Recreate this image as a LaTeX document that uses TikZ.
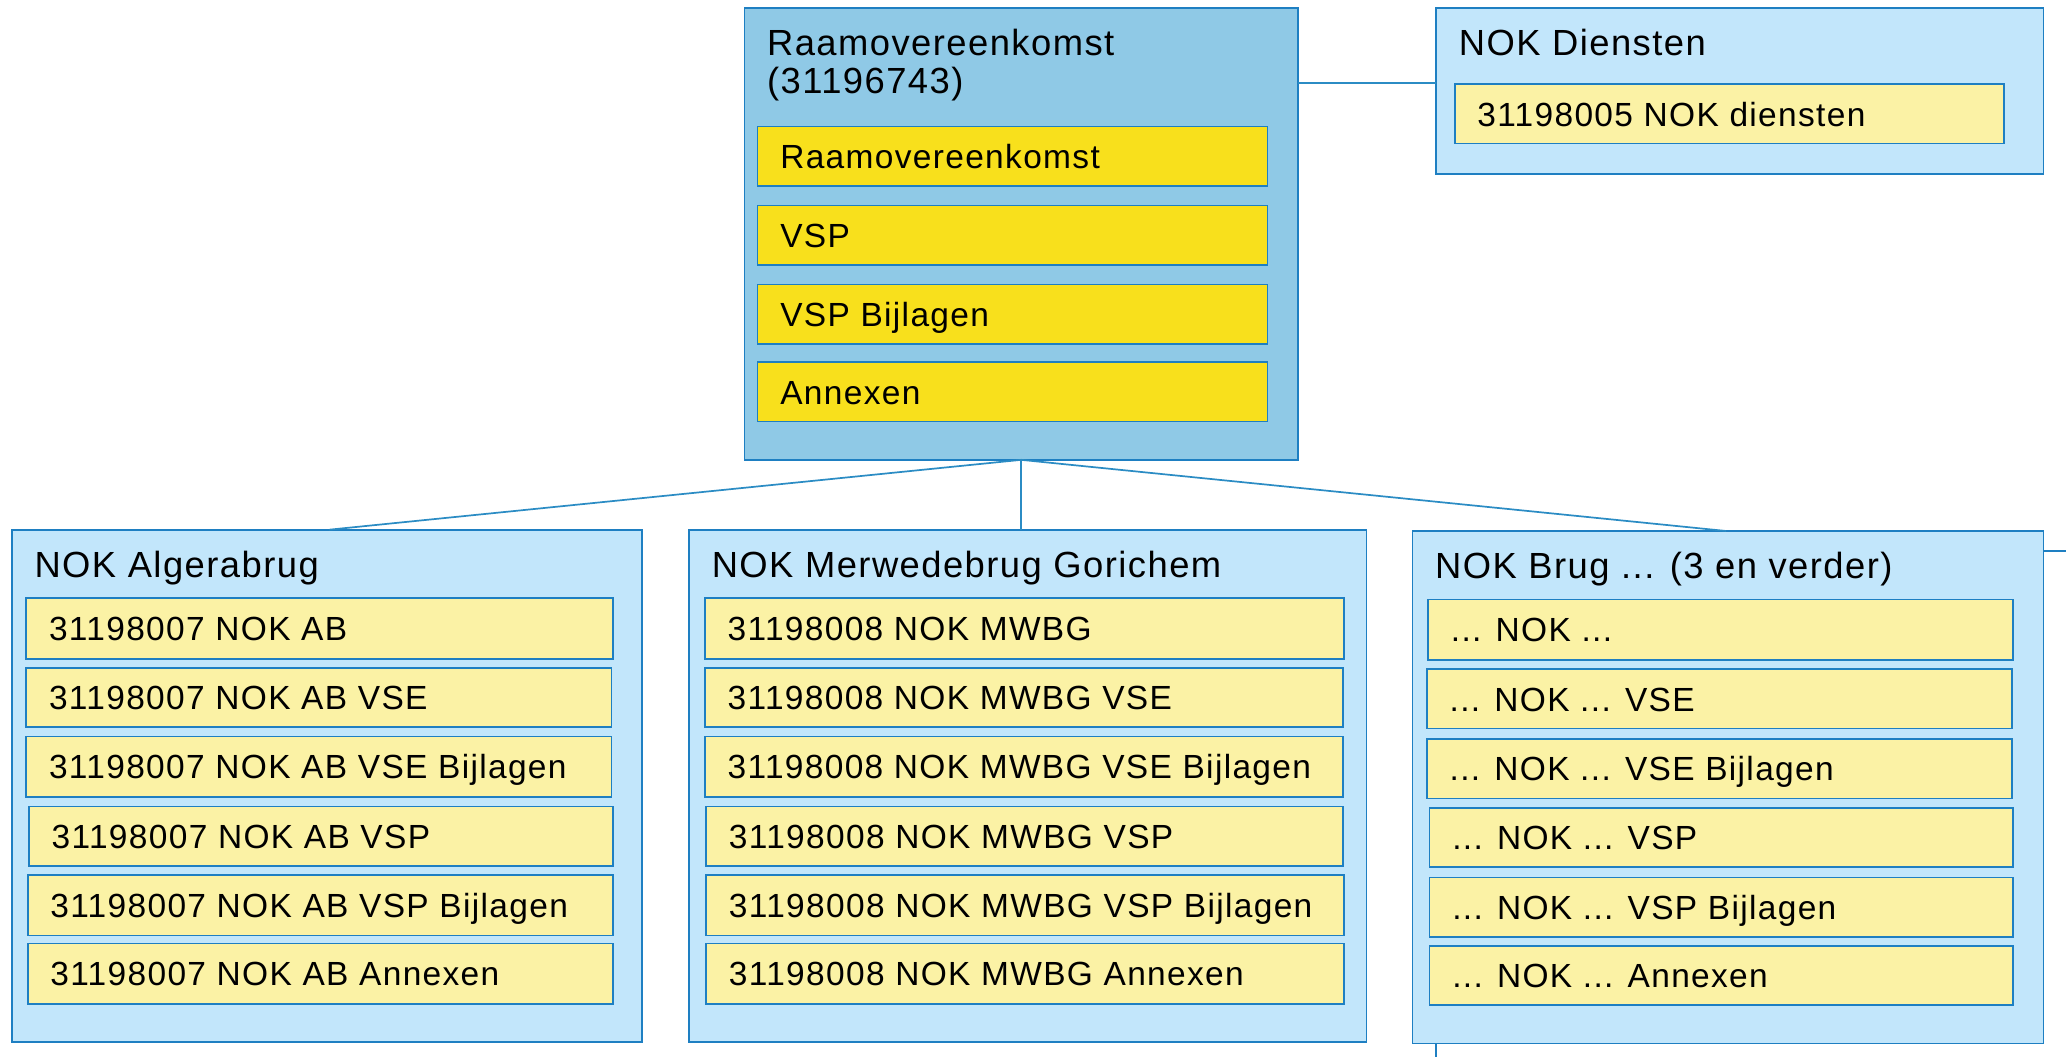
\documentclass[tikz,border=0pt]{standalone}
\usepackage{fontspec}
\setmainfont{Liberation Sans}[LetterSpace=4]
\usetikzlibrary{calc}
\definecolor{edgeblue}{HTML}{1E7FC2}
\definecolor{linkblue}{HTML}{2B8CC4}
\definecolor{topfill}{HTML}{8FC9E6}
\definecolor{groupfill}{HTML}{C2E6FB}
\definecolor{strongyellow}{HTML}{F8E01C}
\definecolor{paleyellow}{HTML}{FBF2A5}
\newcommand\rbox[6]{% style, name, x1, y1, x2, y2
  \pgfmathsetmacro\bw{#5-#3}\pgfmathsetmacro\bh{#6-#4}%
  \pgfmathsetmacro\bx{(#3+#5)/2}\pgfmathsetmacro\by{(#4+#6)/2}%
  \node[#1, minimum width=\bw pt, minimum height=\bh pt] (#2) at (\bx,\by) {};}
\newcommand\ritem[7]{% style, name, x1, y1, x2, y2, text
  \rbox{#1}{#2}{#3}{#4}{#5}{#6}%
  \node[itemtext] (#2-t) at ($(#2.west)+(17,9.2)$) {#7};}
\begin{document}
\begin{tikzpicture}[x=1pt,y=-1pt,
  rbase/.style={rectangle, draw=edgeblue, line width=1.3pt, inner sep=0pt, outer sep=0pt},
  topbox/.style={rbase, fill=topfill},
  groupbox/.style={rbase, fill=groupfill},
  backbox/.style={rbase, fill=white},
  ybox/.style={rbase, fill=strongyellow},
  pbox/.style={rbase, fill=paleyellow},
  itemtext/.style={anchor=base west, inner sep=0pt, font=\fontsize{25.4}{30}\selectfont},
  titletext/.style={anchor=base west, inner sep=0pt, font=\fontsize{27.6}{33}\selectfont},
  link/.style={draw=linkblue, line width=1.3pt}]
\useasboundingbox (0,0) rectangle (1568,802);
\clip (0,0) rectangle (1568,802);
\fill[white] (0,0) rectangle (1568,802);

% box partly hidden behind the third group
\rbox{backbox}{back}{1090}{418}{1640}{860}

% top box
\rbox{topbox}{top}{565}{6}{985}{349}
\node[titletext] (top-t1) at (582,42) {Raamovereenkomst};
\node[titletext] (top-t2) at (582,71) {(31196743)};
\ritem{ybox}{r1}{575}{96}{962}{141}{Raamovereenkomst}
\ritem{ybox}{r2}{575}{156}{962}{201}{VSP}
\ritem{ybox}{r3}{575}{216}{962}{261}{VSP Bijlagen}
\ritem{ybox}{r4}{575}{275}{962}{320}{Annexen}

% NOK Diensten
\rbox{groupbox}{dien}{1090}{6}{1551}{132}
\node[titletext] (dien-t) at (1107,42) {NOK Diensten};
\ritem{pbox}{d1}{1104}{64}{1521}{109}{31198005 NOK diensten}

% NOK Algerabrug
\rbox{groupbox}{alg}{9}{402}{487}{791}
\node[titletext] (alg-t) at (26,438) {NOK Algerabrug};
\ritem{pbox}{a1}{20}{454}{465}{500}{31198007 NOK AB}
\ritem{pbox}{a2}{20}{507}{464}{552}{31198007 NOK AB VSE}
\ritem{pbox}{a3}{20}{559}{464}{605}{31198007 NOK AB VSE Bijlagen}
\ritem{pbox}{a4}{22}{612}{465}{657}{31198007 NOK AB VSP}
\ritem{pbox}{a5}{21}{664}{465}{710}{31198007 NOK AB VSP Bijlagen}
\ritem{pbox}{a6}{21}{716}{465}{762}{31198007 NOK AB Annexen}

% NOK Merwedebrug Gorichem
\rbox{groupbox}{mer}{523}{402}{1037}{791}
\node[titletext] (mer-t) at (540,438) {NOK Merwedebrug Gorichem};
\ritem{pbox}{m1}{535}{454}{1020}{500}{31198008 NOK MWBG}
\ritem{pbox}{m2}{535}{507}{1019}{552}{31198008 NOK MWBG VSE}
\ritem{pbox}{m3}{535}{559}{1019}{605}{31198008 NOK MWBG VSE Bijlagen}
\ritem{pbox}{m4}{536}{612}{1019}{657}{31198008 NOK MWBG VSP}
\ritem{pbox}{m5}{536}{664}{1020}{710}{31198008 NOK MWBG VSP Bijlagen}
\ritem{pbox}{m6}{536}{716}{1020}{762}{31198008 NOK MWBG Annexen}

% NOK Brug ... (3 en verder)
\rbox{groupbox}{brug}{1072}{403}{1551}{792}
\node[titletext] (brug-t) at (1089,439) {NOK Brug ... (3 en verder)};
\ritem{pbox}{b1}{1084}{455}{1528}{501}{... NOK ...}
\ritem{pbox}{b2}{1083}{508}{1527}{553}{... NOK ... VSE}
\ritem{pbox}{b3}{1083}{561}{1527}{606}{... NOK ... VSE Bijlagen}
\ritem{pbox}{b4}{1085}{613}{1528}{658}{... NOK ... VSP}
\ritem{pbox}{b5}{1085}{666}{1528}{711}{... NOK ... VSP Bijlagen}
\ritem{pbox}{b6}{1085}{718}{1528}{763}{... NOK ... Annexen}

% connectors
\draw[link] ($(top.north east)+(0,57)$) coordinate (dlink) -- (dien.west |- dlink);
\draw[link] (top.south) -- ($(alg.north west)+(241,0)$);
\draw[link] (top.south) -- (top.south |- mer.north);
\draw[link] (top.south) -- ($(brug.north west)+(238,0)$);
\end{tikzpicture}
\end{document}
